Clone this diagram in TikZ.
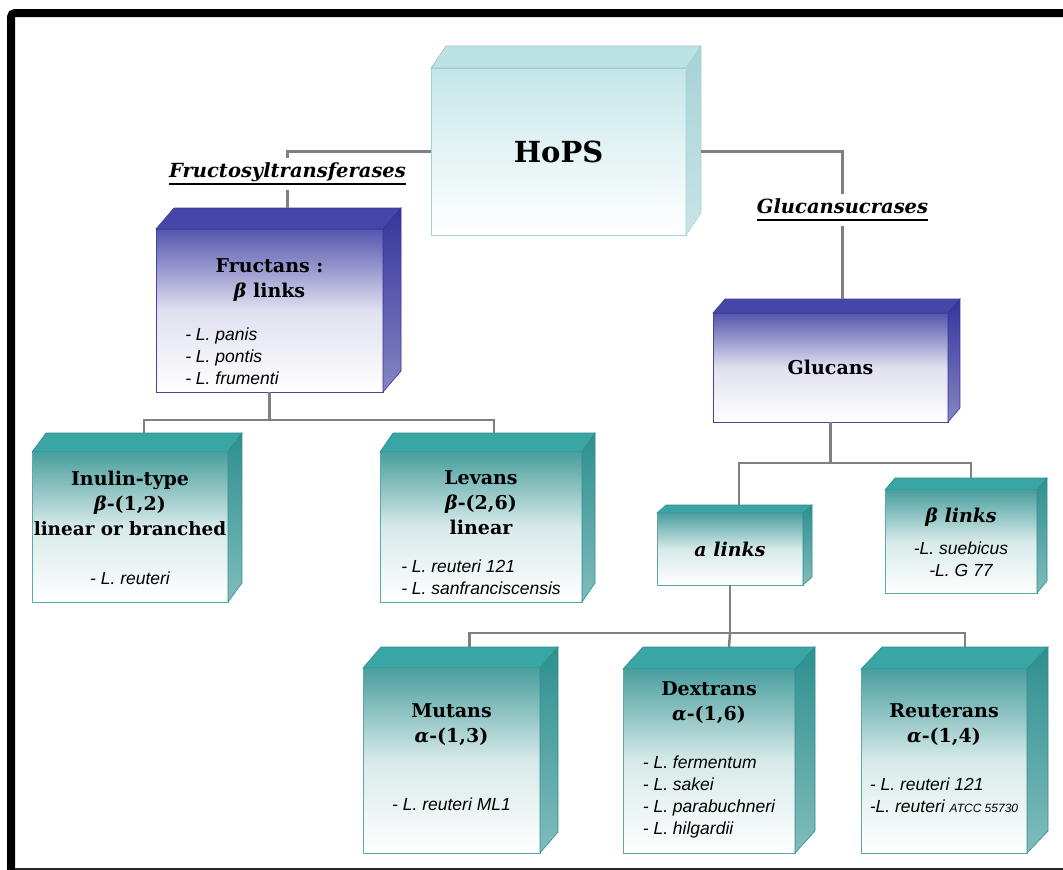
\documentclass[tikz,border=0pt]{standalone}
\usepackage{fontspec}
\setmainfont{DejaVu Serif}
\setsansfont{Liberation Sans}
\usetikzlibrary{calc}

\definecolor{tealtop}{HTML}{3AA5A5}
\definecolor{tealfront}{HTML}{4A9E9E}
\definecolor{tealside}{HTML}{2E8F8F}
\definecolor{tealline}{HTML}{5AAAAA}
\definecolor{bluetop}{HTML}{4646A8}
\definecolor{bluefront}{HTML}{5454AE}
\definecolor{blueside}{HTML}{34349C}
\definecolor{blueline}{HTML}{4444A4}
\definecolor{cyantop}{HTML}{BDE2E5}
\definecolor{cyanfront}{HTML}{C4E6E8}
\definecolor{cyanside}{HTML}{A6D2D6}
\definecolor{linkgray}{HTML}{808080}

\newcommand{\hd}{\fontsize{19}{25}\selectfont\bfseries}
\newcommand{\spp}[2][l]{{\normalfont\sffamily\itshape\fontsize{17.5}{22}\selectfont\begin{tabular}[t]{@{}#1@{}}#2\end{tabular}}}
\newcommand{\ulabel}[1]{\setbox0\hbox{#1}\rlap{\rule[-7pt]{\wd0}{1.6pt}}\box0}
\newcommand{\lift}[1]{\rule{0pt}{#1}}
\newcommand{\cubefaces}[5]{%
  \coordinate (#1-top) at ($(#1.north)+(#2,-#3)$);
  \coordinate (#1-side) at ($(#1.east)+(#2,0)$);
  \filldraw[fill=#4, draw=#4!85!black, line width=0.6pt] (#1.north west) -- ++(#2,-#3) -- ($(#1.north east)+(#2,-#3)$) -- (#1.north east) -- cycle;
  \shadedraw[top color=#5, bottom color=#5!60!white, draw=#5, line width=0.6pt] (#1.north east) -- ++(#2,-#3) -- ($(#1.south east)+(#2,-#3)$) -- (#1.south east) -- cycle;
}

\begin{document}
\begin{tikzpicture}[x=1pt,y=-1pt,
    cube/.style={draw, line width=0.8pt, inner sep=0pt, outer sep=0pt, align=center, font=\hd},
    tealcube/.style={cube, draw=tealline, top color=tealfront, bottom color=white, middle color=tealfront!22!white},
    bluecube/.style={cube, draw=blueline, top color=bluefront, bottom color=white, middle color=bluefront!18!white},
    cyancube/.style={cube, draw=cyanside, top color=cyanfront, bottom color=white, middle color=cyanfront!45!white},
    link/.style={draw=linkgray, line width=2.5pt},
    grplabel/.style={font=\fontsize{19.5}{24}\selectfont\bfseries\itshape, inner xsep=3pt, inner ysep=5pt}]
  \useasboundingbox (0,0) rectangle (1063,870);
  \fill[white] (0,0) rectangle (1063,870);
  \draw[line width=8pt, rounded corners=4pt] (11,880) -- (11,13) -- (1075,13);
  \draw[line width=2pt, black!85] (15,869) -- (1063,869);

  \node[cyancube, minimum width=255pt, minimum height=167pt, font=\fontsize{29}{34}\selectfont\bfseries] (hops) at (558.5,151.5) {HoPS};
  \node[bluecube, minimum width=227pt, minimum height=163pt] (fruct) at (269.5,310.5)
    {\lift{43pt}Fructans :\\ \textit{β} links\\[18pt] \spp{- L. panis\\- L. pontis\\- L. frumenti}\makebox[75pt]{}};
  \node[bluecube, minimum width=235pt, minimum height=109pt] (gluc) at (830.5,367.5) {Glucans};
  \node[tealcube, minimum width=196pt, minimum height=150pt] (inul) at (130,527)
    {\lift{23pt}Inulin-type\\ \textit{β}-(1,2)\\ {\fontsize{18.4}{25}\selectfont linear or branched}\\[24pt] \spp{- L. reuteri}};
  \node[tealcube, minimum width=202pt, minimum height=150pt] (lev) at (481,527)
    {\lift{31pt}Levans\\ \textit{β}-(2,6)\\ linear\\[13pt] \spp{- L. reuteri 121\\- L. sanfranciscensis}};
  \node[tealcube, minimum width=146pt, minimum height=72pt] (alink) at (730,549) {\textit{a links}};
  \node[tealcube, minimum width=152pt, minimum height=103pt] (blink) at (961,541.5)
    {\lift{23pt}\textit{β links}\\[7pt] \spp[c]{-L. suebicus\\-L. G 77}};
  \node[tealcube, minimum width=177pt, minimum height=185pt] (mut) at (451.5,760.5)
    {Mutans\\ \textit{α}-(1,3)\\[43pt] \spp{- L. reuteri ML1}};
  \node[tealcube, minimum width=172pt, minimum height=184pt] (dex) at (709,761)
    {Dextrans\\ \textit{α}-(1,6)\\[23pt] \spp{- L. fermentum\\- L. sakei\\- L. parabuchneri\\- L. hilgardii}};
  \node[tealcube, minimum width=166pt, minimum height=184pt] (reut) at (944,761)
    {Reuterans\\ \textit{α}-(1,4)\\[23pt] \spp{- L. reuteri 121\\-L. reuteri {\fontsize{12}{14}\selectfont ATCC 55730}}};

  \cubefaces{hops}{15}{22}{cyantop}{cyanside}
  \cubefaces{fruct}{18}{21}{bluetop}{blueside}
  \cubefaces{gluc}{12}{14}{bluetop}{blueside}
  \cubefaces{inul}{14}{19}{tealtop}{tealside}
  \cubefaces{lev}{13}{19}{tealtop}{tealside}
  \cubefaces{alink}{9}{8}{tealtop}{tealside}
  \cubefaces{blink}{10}{12}{tealtop}{tealside}
  \cubefaces{mut}{18}{21}{tealtop}{tealside}
  \cubefaces{dex}{20}{22}{tealtop}{tealside}
  \cubefaces{reut}{21}{22}{tealtop}{tealside}

  \node[grplabel] (ftlbl) at (287.5,174) {\ulabel{Fructosyltransferases}};
  \node[grplabel] (gslbl) at (842.5,210) {\ulabel{Glucansucrases}};

  \coordinate (fsplit) at ($(fruct.south)+(0,28)$);
  \coordinate (gsplit) at ($(gluc.south)+(0,41)$);
  \coordinate (asplit) at ($(alink.south)+(0,48)$);

  \draw[link] (hops.west) -| (ftlbl.north);
  \draw[link] (ftlbl.south) -- (fruct-top);
  \draw[link] (hops-side) -| (gslbl.north);
  \draw[link] (gslbl.south) -- (gluc-top);
  \draw[link] (fruct.south) -- (fsplit);
  \draw[link] (inul-top) |- (fsplit) -| (lev-top);
  \draw[link] (gluc.south) -- (gsplit);
  \draw[link] (alink-top) |- (gsplit) -| (blink-top);
  \draw[link] (alink.south) -- (asplit);
  \draw[link] (mut-top) |- (asplit) -| (reut-top);
  \draw[link] (asplit) -- (dex-top);
\end{tikzpicture}
\end{document}
